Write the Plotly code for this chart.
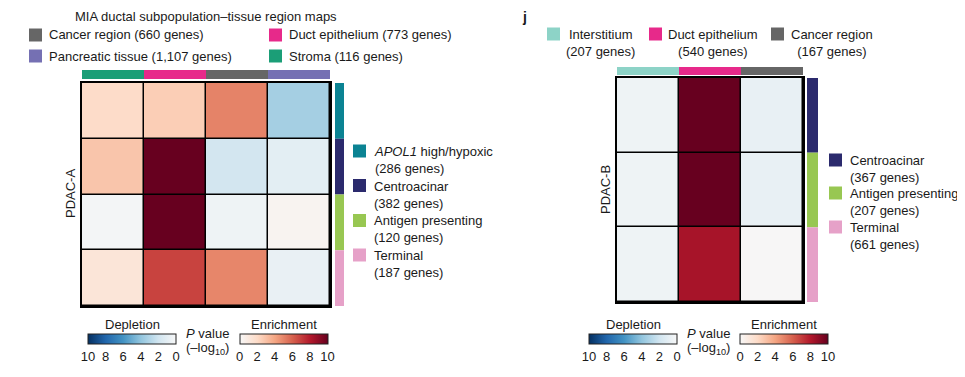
import plotly.graph_objects as go

# page body has an 8px default margin; lay the figure out in reference pixel coords
OFF = 8
W, H = 965 - OFF, 377 - OFF

# ---------------- data ----------------
a_cols = ["Stroma", "Duct epithelium", "Cancer region", "Pancreatic tissue"]
a_col_genes = [116, 773, 660, 1107]
a_rows = ["APOL1 high/hypoxic", "Centroacinar", "Antigen presenting", "Terminal"]
a_row_genes = [286, 382, 120, 187]
# signed -log10 P : positive = enrichment, negative = depletion
a_vals = [
    [1.9, 2.5, 5.0, -3.4],
    [2.8, 10.0, -1.9, -1.05],
    [-0.2, 10.0, -0.47, 0.3],
    [1.3, 6.8, 4.9, -0.74],
]

b_cols = ["Interstitium", "Duct epithelium", "Cancer region"]
b_col_genes = [207, 540, 167]
b_rows = ["Centroacinar", "Antigen presenting", "Terminal"]
b_row_genes = [367, 207, 661]
b_vals = [
    [-0.47, 10.0, -0.8],
    [-0.45, 10.0, -0.8],
    [-0.5, 8.3, 0.05],
]

tick_vals_dep = [-10, -8, -6, -4, -2, 0]
tick_text_dep = ["10", "8", "6", "4", "2", "0"]
tick_vals_enr = [0, 2, 4, 6, 8, 10]
tick_text_enr = ["0", "2", "4", "6", "8", "10"]

col_colors = {"Stroma": "#1b9e77", "Duct epithelium": "#e7298a",
              "Cancer region": "#666666", "Pancreatic tissue": "#7570b3",
              "Interstitium": "#8dd3c7"}
row_colors = {"APOL1 high/hypoxic": "#0b8393", "Centroacinar": "#2b2a6d",
              "Antigen presenting": "#98c752", "Terminal": "#e6a1c8"}

rdbu = ["#053061", "#2166ac", "#4393c3", "#92c5de", "#d1e5f0", "#f7f7f7",
        "#fddbc7", "#f4a582", "#d6604d", "#b2182b", "#67001f"]
full_scale = [[i / 10, c] for i, c in enumerate(rdbu)]
dep_scale = [[i / 5, c] for i, c in enumerate(rdbu[:6])]
enr_scale = [[i / 5, c] for i, c in enumerate(rdbu[5:])]

FONT = "Liberation Sans, Arial, sans-serif"
TXT = "#1a1a1a"
FS = 13


def px(x):
    return (x - OFF) / W


def py(y):
    return 1 - (y - OFF) / H


fig = go.Figure()

# heatmaps
fig.add_trace(go.Heatmap(z=a_vals, x=list(range(len(a_cols))), y=list(range(len(a_rows))),
                         zmin=-10, zmax=10, colorscale=full_scale, showscale=False,
                         xgap=1.5, ygap=1.5, xaxis="x", yaxis="y", hoverinfo="skip"))
fig.add_trace(go.Heatmap(z=b_vals, x=list(range(len(b_cols))), y=list(range(len(b_rows))),
                         zmin=-10, zmax=10, colorscale=full_scale, showscale=False,
                         xgap=1.5, ygap=1.5, xaxis="x2", yaxis="y2", hoverinfo="skip"))


def cbar_trace(scale, cmin, cmax, tv, tt, xc, ytop, axis):
    return go.Scatter(x=[None], y=[None], mode="markers", xaxis=axis[0], yaxis=axis[1],
                      showlegend=False, hoverinfo="skip",
                      marker=dict(color=[cmin], cmin=cmin, cmax=cmax, colorscale=scale,
                                  showscale=True,
                                  colorbar=dict(orientation="h", x=px(xc), xanchor="center",
                                                y=py(ytop), yanchor="top", len=88, lenmode="pixels",
                                                thickness=10, xpad=0, ypad=0,
                                                outlinewidth=1, outlinecolor="#222",
                                                tickvals=tv, ticktext=tt, ticks="",
                                                ticklabelposition="outside bottom",
                                                tickfont=dict(size=FS, family=FONT, color=TXT))))


fig.add_trace(cbar_trace(dep_scale, -10, 0, tick_vals_dep, tick_text_dep, 132, 334, ("x", "y")))
fig.add_trace(cbar_trace(enr_scale, 0, 10, tick_vals_enr, tick_text_enr, 283.5, 334, ("x", "y")))
fig.add_trace(cbar_trace(dep_scale, -10, 0, tick_vals_dep, tick_text_dep, 633, 334, ("x2", "y2")))
fig.add_trace(cbar_trace(enr_scale, 0, 10, tick_vals_enr, tick_text_enr, 784, 334, ("x2", "y2")))

ax_common = dict(showticklabels=False, showgrid=False, zeroline=False, ticks="",
                 showline=True, mirror=True, linecolor="black", linewidth=2)

fig.update_layout(
    width=W, height=H, margin=dict(l=0, r=0, t=0, b=0),
    paper_bgcolor="white", plot_bgcolor="black",
    font=dict(family=FONT, size=FS, color=TXT),
    xaxis=dict(domain=[px(82), px(330)], range=[-0.5, len(a_cols) - 0.5], **ax_common),
    yaxis=dict(domain=[py(306), py(83)], range=[len(a_rows) - 0.5, -0.5], **ax_common),
    xaxis2=dict(domain=[px(617), px(803)], range=[-0.5, len(b_cols) - 0.5], anchor="y2", **ax_common),
    yaxis2=dict(domain=[py(302), py(78)], range=[len(b_rows) - 0.5, -0.5], anchor="x2", **ax_common),
)

shapes = []
ann = []

# column annotation bars
for i, c in enumerate(a_cols):
    shapes.append(dict(type="rect", xref="x", yref="paper", x0=i - 0.5, x1=i + 0.5,
                       y0=py(79), y1=py(70), fillcolor=col_colors[c], line=dict(width=0)))
for i, c in enumerate(b_cols):
    shapes.append(dict(type="rect", xref="x2", yref="paper", x0=i - 0.5, x1=i + 0.5,
                       y0=py(75), y1=py(67), fillcolor=col_colors[c], line=dict(width=0)))
# row annotation bars
for j, r in enumerate(a_rows):
    shapes.append(dict(type="rect", xref="paper", yref="y", x0=px(335), x1=px(344),
                       y0=j - 0.5, y1=j + 0.5, fillcolor=row_colors[r], line=dict(width=0)))
for j, r in enumerate(b_rows):
    shapes.append(dict(type="rect", xref="paper", yref="y2", x0=px(807), x1=px(818),
                       y0=j - 0.5, y1=j + 0.5, fillcolor=row_colors[r], line=dict(width=0)))


def square(x0, yc, color, s=13):
    shapes.append(dict(type="rect", xref="paper", yref="paper", x0=px(x0), x1=px(x0 + s),
                       y0=py(yc + s / 2), y1=py(yc - s / 2), fillcolor=color, line=dict(width=0)))


def text(x, y, t, xa="left", size=FS, align="left", angle=0, ya="middle"):
    ann.append(dict(x=px(x), y=py(y), xref="paper", yref="paper", text=t, showarrow=False,
                    xanchor=xa, yanchor=ya, align=align, textangle=angle,
                    font=dict(size=size, family=FONT, color=TXT)))


def fmt(n):
    return f"{n:,}"


# ---- left panel ----
text(206, 16.5, "MIA ductal subpopulation\u2013tissue region maps", xa="center")
top_pos = {"Cancer region": (29, 35), "Duct epithelium": (269, 35),
           "Pancreatic tissue": (29, 56), "Stroma": (269, 56)}
for c, g in zip(a_cols, a_col_genes):
    x0, yc = top_pos[c]
    square(x0, yc, col_colors[c])
    text(x0 + 18, yc, f"{c} ({fmt(g)} genes)")

row_y_a = [151, 185.5, 220.5, 255]
for r, g, yc in zip(a_rows, a_row_genes, row_y_a):
    square(353, yc, row_colors[r])
    label = "<i>APOL1</i> high/hypoxic" if r.startswith("APOL1") else r
    text(372, yc - 9, f"{label}<br>({fmt(g)} genes)", ya="top")

text(70, 194, "PDAC-A", xa="center", angle=-90)

# ---- right panel ----
text(524, 17, "<b>j</b>", size=14, xa="center")
top_b = {"Interstitium": (547, 600), "Duct epithelium": (649, 713), "Cancer region": (771, 832)}
for c, g in zip(b_cols, b_col_genes):
    x0, xc = top_b[c]
    square(x0, 34, col_colors[c])
    text(xc, 25, f"{c}<br>({fmt(g)} genes)", xa="center", align="center", ya="top")

row_y_b = [160, 193, 227]
for r, g, yc in zip(b_rows, b_row_genes, row_y_b):
    square(829, yc, row_colors[r])
    text(848, yc - 9, f"{r}<br>({fmt(g)} genes)", ya="top")

text(605, 190, "PDAC-B", xa="center", angle=-90)

# colorbar labels
for xd, xe, xp in [(132, 283.5, 207), (633, 784, 708)]:
    text(xd, 324, "Depletion", xa="center")
    text(xe, 324, "Enrichment", xa="center")
    text(xp, 333, "<i>P</i> value", xa="center")
    text(xp, 348, "(\u2013log<sub>10</sub>)", xa="center")

fig.update_layout(shapes=shapes, annotations=ann)
fig.write_html("out.html")
